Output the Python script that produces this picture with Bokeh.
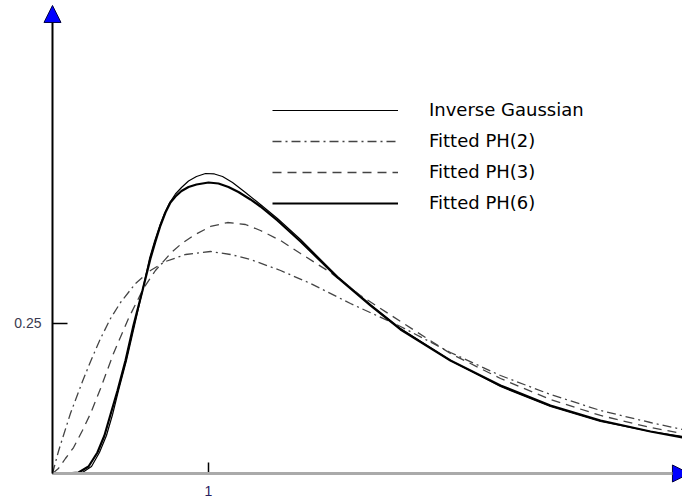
from bokeh.plotting import figure
from bokeh.models import (Arrow, NormalHead, FixedTicker, Legend, LegendItem)
from bokeh.embed import file_html
from bokeh.resources import INLINE

# ---- data ----
ig_x = [0, 0.115, 0.192, 0.25, 0.301, 0.346, 0.385, 0.423, 0.474, 0.526, 0.577,
        0.622, 0.654, 0.686, 0.718, 0.75, 0.788, 0.827, 0.872, 0.923, 0.981,
        1.038, 1.090, 1.154, 1.237, 1.333, 1.442, 1.590, 1.827, 2.038, 2.231,
        2.551, 2.872, 3.192, 3.513, 3.833, 4.038]
ig_y = [0, 0, 0.0017, 0.0117, 0.035, 0.0633, 0.0983, 0.1383, 0.1883, 0.2467,
        0.305, 0.3583, 0.3867, 0.4117, 0.4333, 0.4508, 0.4658, 0.4767, 0.4875,
        0.495, 0.5, 0.4992, 0.495, 0.485, 0.4683, 0.4483, 0.425, 0.39, 0.3283,
        0.2817, 0.2417, 0.1883, 0.145, 0.1117, 0.0867, 0.07, 0.0617]

ph2_x = [0, 0.019, 0.038, 0.064, 0.115, 0.192, 0.244, 0.308, 0.372, 0.436,
         0.532, 0.628, 0.724, 0.853, 1.013, 1.141, 1.269, 1.462, 1.654, 1.910,
         2.231, 2.551, 2.872, 3.192, 3.513, 3.833, 4.038]
ph2_y = [0, 0.0183, 0.0367, 0.0583, 0.1, 0.1533, 0.1867, 0.225, 0.2583, 0.285,
         0.3167, 0.3383, 0.3533, 0.365, 0.37, 0.365, 0.3567, 0.3383, 0.3167,
         0.2833, 0.245, 0.2017, 0.1633, 0.1317, 0.105, 0.085, 0.0733]

ph3_x = [0, 0.038, 0.083, 0.135, 0.192, 0.244, 0.308, 0.391, 0.487, 0.583,
         0.660, 0.756, 0.821, 0.904, 1.013, 1.122, 1.237, 1.333, 1.462, 1.590,
         1.782, 1.974, 2.231, 2.551, 2.872, 3.192, 3.513, 3.833, 4.038]
ph3_y = [0, 0.0083, 0.025, 0.0433, 0.0717, 0.1, 0.1417, 0.2, 0.2583, 0.3083,
         0.3383, 0.3667, 0.3817, 0.3967, 0.4117, 0.4183, 0.415, 0.405, 0.3883,
         0.3667, 0.335, 0.2967, 0.2533, 0.2, 0.1583, 0.1233, 0.0967, 0.0767,
         0.0667]

ph6_x = [0, 0.083, 0.167, 0.231, 0.288, 0.333, 0.372, 0.417, 0.468, 0.519,
         0.577, 0.628, 0.660, 0.692, 0.724, 0.756, 0.788, 0.827, 0.872, 0.923,
         1.0, 1.064, 1.128, 1.192, 1.269, 1.333, 1.442, 1.590, 1.827, 2.038,
         2.231, 2.551, 2.872, 3.192, 3.513, 3.833, 4.038]
ph6_y = [0, 0, 0.0017, 0.0117, 0.035, 0.0633, 0.0983, 0.1383, 0.1883, 0.2467,
         0.305, 0.3583, 0.3867, 0.4133, 0.435, 0.4517, 0.4617, 0.4708, 0.4775,
         0.4817, 0.485, 0.4833, 0.4775, 0.4692, 0.4567, 0.445, 0.4217, 0.3867,
         0.3267, 0.28, 0.24, 0.1883, 0.1467, 0.1133, 0.0883, 0.07, 0.06]

x_ticks = [1]
y_ticks = [0.25]
y_tick_labels = {0.25: "0.25"}
labels = ["Inverse Gaussian", "Fitted PH(2)", "Fitted PH(3)", "Fitted PH(6)"]

X_MIN, X_MAX = -0.3333, 4.0385
Y_MIN, Y_MAX = -0.045, 0.7883
Y_ARROW_TIP = 0.78
X_ARROW_TIP = 4.083

p = figure(width=682, height=500, x_range=(X_MIN, X_MAX), y_range=(Y_MIN, Y_MAX),
           output_backend="svg", toolbar_location=None,
           min_border=0, min_border_left=0, min_border_right=0,
           min_border_top=0, min_border_bottom=0)
p.outline_line_color = None
p.xgrid.visible = False
p.ygrid.visible = False
p.background_fill_color = "white"
p.border_fill_color = "white"

# axes (crossing at the origin)
xa = p.xaxis[0]
xa.fixed_location = 0
xa.ticker = FixedTicker(ticks=x_ticks)
xa.axis_line_color = None
xa.major_tick_in = 11
xa.major_tick_out = 0
xa.major_tick_line_color = "black"
xa.major_tick_line_width = 1.5
xa.minor_tick_line_color = None
xa.major_label_standoff = 13
xa.major_label_text_font = "Liberation Sans"
xa.major_label_text_font_size = "14px"
xa.major_label_text_color = "#2a2260"

ya = p.yaxis[0]
ya.fixed_location = 0
ya.ticker = FixedTicker(ticks=y_ticks)
ya.major_label_overrides = y_tick_labels
ya.axis_line_color = None
ya.major_tick_in = 15
ya.major_tick_out = 0
ya.major_tick_line_color = "black"
ya.major_tick_line_width = 1.5
ya.minor_tick_line_color = None
ya.major_label_standoff = 11
ya.major_label_text_font = "Liberation Sans"
ya.major_label_text_font_size = "14px"
ya.major_label_text_color = "#3a3a50"

# axis lines with arrow heads
p.add_layout(Arrow(x_start=0, y_start=0, x_end=X_ARROW_TIP, y_end=0,
                   line_color="#aaaaaa", line_width=3,
                   end=NormalHead(size=17, fill_color="blue", line_color="#000044",
                                  line_width=1)))
p.add_layout(Arrow(x_start=0, y_start=0, x_end=0, y_end=Y_ARROW_TIP,
                   line_color="black", line_width=2,
                   end=NormalHead(size=17, fill_color="blue", line_color="#000044",
                                  line_width=1)))

# curves
r_ig = p.line(ig_x, ig_y, line_color="black", line_width=1.2)
r_ph2 = p.line(ph2_x, ph2_y, line_color="#444444", line_width=1.3,
               line_dash="9 4 2 4")
r_ph3 = p.line(ph3_x, ph3_y, line_color="#444444", line_width=1.3,
               line_dash="9 6")
r_ph6 = p.line(ph6_x, ph6_y, line_color="black", line_width=2.2)

legend = Legend(items=[LegendItem(label=labels[0], renderers=[r_ig]),
                       LegendItem(label=labels[1], renderers=[r_ph2]),
                       LegendItem(label=labels[2], renderers=[r_ph3]),
                       LegendItem(label=labels[3], renderers=[r_ph6])],
                location=(272, 287), glyph_width=126, glyph_height=20,
                label_height=20, label_standoff=31, spacing=10, padding=0,
                margin=0, border_line_alpha=0, background_fill_alpha=0,
                label_text_font="DejaVu Sans", label_text_font_size="18px",
                label_text_color="black")
p.add_layout(legend)

open("out.html", "w").write(file_html(p, INLINE))
